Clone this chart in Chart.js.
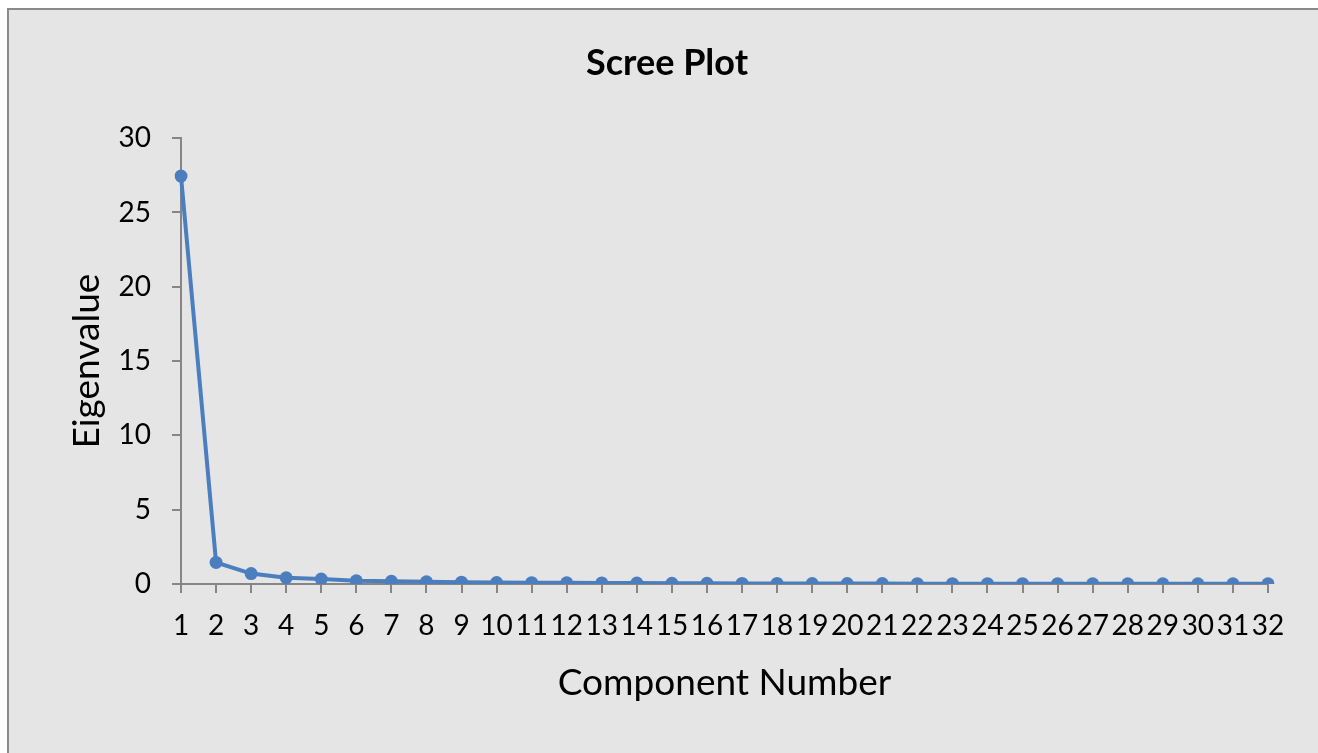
<!DOCTYPE html>
<html>
<head>
<meta charset="utf-8">
<script src="https://cdn.jsdelivr.net/npm/chart.js@4/dist/chart.umd.min.js"></script>
<style>
  html, body { margin: 0; padding: 0; background: #ffffff; overflow: hidden; width: 1318px; height: 753px; }
  #frame {
    position: absolute; left: 7px; top: 8px; width: 1309px; height: 743px;
    background: #e5e5e5; border-left: 2px solid #8a8a8a; border-top: 2px solid #8a8a8a;
  }
  #wrap { position: absolute; left: 0; top: 0; width: 1334px; height: 753px; }
</style>
</head>
<body>
<div id="frame"></div>
<div id="wrap"><canvas id="scree"></canvas></div>
<script>
var components = [];
for (var i = 1; i <= 32; i++) { components.push(String(i)); }

var eigenvalues = [
  27.45, 1.45, 0.7, 0.42, 0.33, 0.22, 0.18, 0.15, 0.12, 0.1,
  0.09, 0.08, 0.07, 0.06, 0.05, 0.05, 0.04, 0.04, 0.03, 0.03,
  0.03, 0.02, 0.02, 0.02, 0.02, 0.02, 0.01, 0.01, 0.01, 0.01,
  0.01, 0.01
];

var y_ticks = [0, 5, 10, 15, 20, 25, 30];

var font_family = 'Lato, "Open Sans", sans-serif';
var axis_grey = '#868686';
var line_blue = '#4a7ebf';

var ctx = document.getElementById('scree').getContext('2d');
new Chart(ctx, {
  type: 'line',
  data: {
    labels: components,
    datasets: [{
      label: 'Eigenvalue',
      data: eigenvalues,
      borderColor: line_blue,
      backgroundColor: line_blue,
      borderWidth: 4,
      pointRadius: 6.5,
      pointHoverRadius: 6.5,
      pointBorderWidth: 0,
      tension: 0
    }]
  },
  options: {
    responsive: true,
    maintainAspectRatio: false,
    animation: false,
    layout: { padding: 0 },
    plugins: {
      legend: { display: false },
      tooltip: { enabled: false },
      title: {
        display: true,
        text: 'Scree Plot',
        color: '#000000',
        font: { family: font_family, size: 36, weight: 'bold' },
        padding: { top: 42, bottom: 53 }
      }
    },
    scales: {
      x: {
        type: 'category',
        offset: false,
        afterFit: function(scale) { scale.height = 169; },
        border: { display: true, color: axis_grey, width: 2 },
        grid: { display: true, drawOnChartArea: false, drawTicks: true, tickLength: 9, color: axis_grey, lineWidth: 2 },
        ticks: {
          autoSkip: false, maxRotation: 0, minRotation: 0, padding: 16,
          color: '#000000', font: { family: font_family, size: 28 }
        },
        title: {
          display: true, text: 'Component Number', color: '#000000',
          font: { family: font_family, size: 37 },
          padding: { top: 0, bottom: 48 }
        }
      },
      y: {
        min: 0,
        max: 30,
        afterFit: function(scale) { scale.width = 181; },
        afterBuildTicks: function(scale) {
          scale.ticks = y_ticks.map(function(v) { return { value: v }; });
        },
        border: { display: true, color: axis_grey, width: 2 },
        grid: { display: true, drawOnChartArea: false, drawTicks: true, tickLength: 9, color: axis_grey, lineWidth: 2 },
        ticks: {
          padding: 21, color: '#000000', font: { family: font_family, size: 28 }
        },
        title: {
          display: true, text: 'Eigenvalue', color: '#000000',
          font: { family: font_family, size: 37 },
          padding: { top: 65, bottom: 0 }
        }
      },
      // empty right-hand box: keeps the plot right edge at 1268 while the title centres on the whole frame
      spacer: {
        type: 'linear',
        position: 'right',
        display: true,
        afterFit: function(scale) { scale.width = 66; },
        border: { display: false },
        grid: { display: false },
        ticks: { display: false }
      }
    }
  }
});
</script>
</body>
</html>
